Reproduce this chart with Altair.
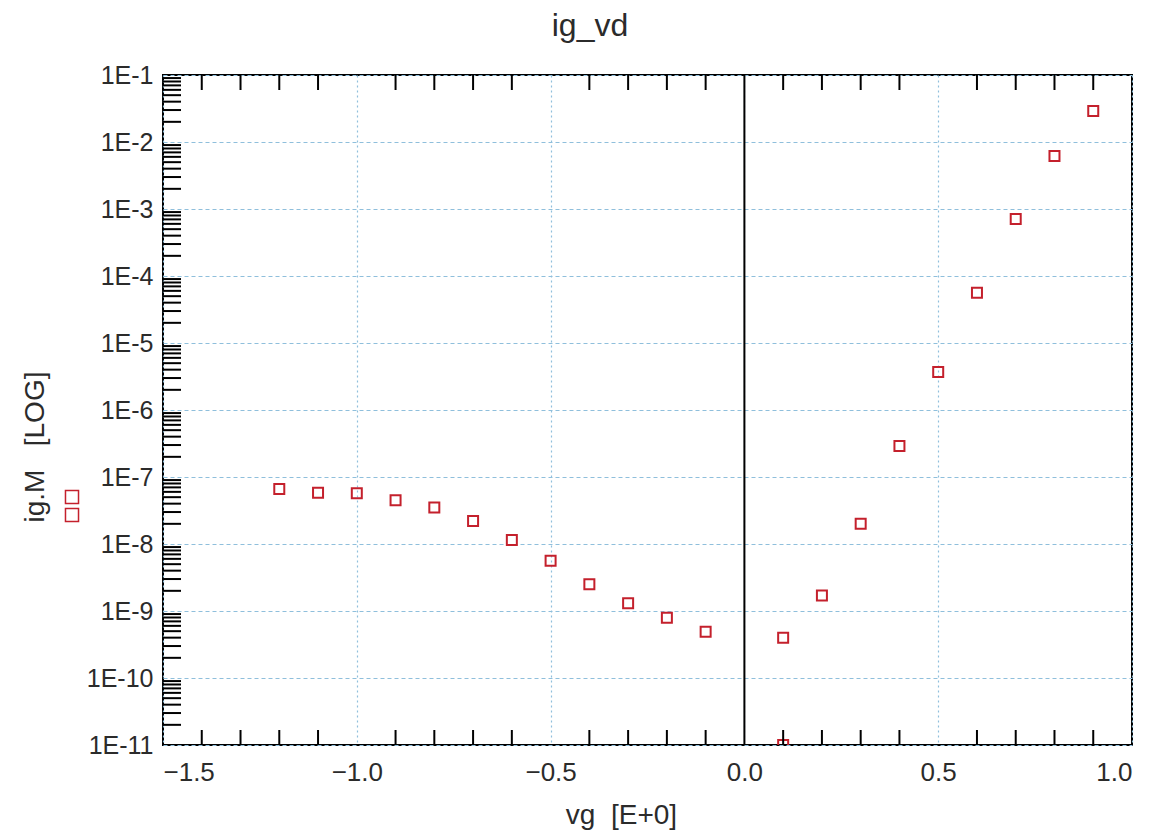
import altair as alt
import pandas as pd

# ---- data ----
vg = [-1.2, -1.1, -1.0, -0.9, -0.8, -0.7, -0.6, -0.5, -0.4, -0.3, -0.2, -0.1,
      0.1, 0.1, 0.2, 0.3, 0.4, 0.5, 0.6, 0.7, 0.8, 0.9]
ig = [6.6e-8, 5.8e-8, 5.7e-8, 4.5e-8, 3.5e-8, 2.2e-8, 1.15e-8, 5.6e-9, 2.5e-9, 1.3e-9,
      7.9e-10, 4.9e-10, 4.0e-10, 1.0e-11, 1.7e-9, 2.0e-8, 2.9e-7, 3.7e-6, 5.6e-5,
      7.1e-4, 6.2e-3, 2.9e-2]

x_ticks = [-1.5, -1.0, -0.5, 0.0, 0.5, 1.0]
y_ticks = [1e-11, 1e-10, 1e-9, 1e-8, 1e-7, 1e-6, 1e-5, 1e-4, 1e-3, 1e-2, 1e-1]
x_minor = [-1.4, -1.3, -1.2, -1.1, -0.9, -0.8, -0.7, -0.6, -0.4, -0.3, -0.2, -0.1,
           0.1, 0.2, 0.3, 0.4, 0.6, 0.7, 0.8, 0.9]
y_minor = [m * d for d in y_ticks[:-1] for m in [2, 3, 4, 5, 6, 7, 8, 9]]

title_text = "ig_vd"
x_title = "vg\u00a0\u00a0[E+0]"
y_title = "ig.M\u00a0\u00a0\u00a0[LOG]"

W, H = 969, 670
FONT = "Liberation Sans"
RED = "#c4202c"
GRID = "#8fbfdc"
TXT = "#2b2b2b"

df = pd.DataFrame({"vg": vg, "ig": ig})
xs = alt.Scale(domain=[-1.5, 1.0], nice=False, zero=False)
ys = alt.Scale(type="log", domain=[1e-11, 1e-1], nice=False)

points = alt.Chart(df).mark_point(
    shape="square", filled=False, color=RED, strokeWidth=2, size=100, clip=True, opacity=1
).encode(
    x=alt.X("vg:Q", scale=xs, axis=alt.Axis(
        values=x_ticks, format=".1f", title=x_title, ticks=False, domain=False,
        grid=True, gridColor=GRID, gridDash=[2, 3], gridWidth=1.2,
        labelFont=FONT, labelFontSize=26, labelColor=TXT, labelPadding=14,
        titleFont=FONT, titleFontSize=28, titleFontWeight="normal", titleColor=TXT,
        titleX=458, titleY=70, titleBaseline="middle", titleAlign="center")),
    y=alt.Y("ig:Q", scale=ys, axis=alt.Axis(
        values=y_ticks, labelExpr="'1E' + round(log(datum.value)/LN10)", title=None,
        ticks=False, domain=False, grid=True, gridColor=GRID, gridDash=[4, 3], gridWidth=1.2,
        labelFont=FONT, labelFontSize=25, labelColor=TXT, labelPadding=10)),
)

zero_line = alt.Chart(pd.DataFrame({"z": [0.0]})).mark_rule(color="black", strokeWidth=2).encode(
    x=alt.X("z:Q", scale=xs, axis=None)
)

xmin_df = pd.DataFrame({"t": x_minor})
tick_bottom = alt.Chart(xmin_df).mark_rule(color="black", strokeWidth=2).encode(
    x=alt.X("t:Q", scale=xs, axis=None), y=alt.value(H), y2=alt.value(H - 15)
)
tick_top = alt.Chart(xmin_df).mark_rule(color="black", strokeWidth=2).encode(
    x=alt.X("t:Q", scale=xs, axis=None), y=alt.value(0), y2=alt.value(15)
)
tick_left = alt.Chart(pd.DataFrame({"t": y_minor})).mark_rule(color="black", strokeWidth=2).encode(
    y=alt.Y("t:Q", scale=ys, axis=None), x=alt.value(0), x2=alt.value(18)
)

ytitle = alt.Chart(pd.DataFrame({"s": [y_title]})).mark_text(
    angle=270, font=FONT, fontSize=28, color=TXT, baseline="middle", align="center"
).encode(text="s:N", x=alt.value(-127), y=alt.value(372))

sq_style = dict(shape="square", filled=False, color=RED, strokeWidth=1.5, size=170, opacity=1)
legend_a = alt.Chart(pd.DataFrame({"k": ["a"]})).mark_point(**sq_style).encode(
    x=alt.value(-91), y=alt.value(422))
legend_b = alt.Chart(pd.DataFrame({"k": ["b"]})).mark_point(**sq_style).encode(
    x=alt.value(-91), y=alt.value(440))

main_title = alt.Chart(pd.DataFrame({"s": [title_text]})).mark_text(
    font=FONT, fontSize=32, color=TXT, baseline="alphabetic", align="center"
).encode(text="s:N", x=alt.value(427), y=alt.value(-39))

chart = alt.layer(
    points, zero_line, tick_bottom, tick_top, tick_left, ytitle, legend_a, legend_b, main_title
).resolve_axis(x="independent", y="independent").properties(
    width=W, height=H,
    autosize=alt.AutoSizeParams(type="none"),
    padding={"left": 163, "top": 75, "right": 37, "bottom": 89},
    background="white",
).configure_view(stroke="black", strokeWidth=2)

chart.save("out.html", embed_options={"renderer": "svg", "actions": False})
